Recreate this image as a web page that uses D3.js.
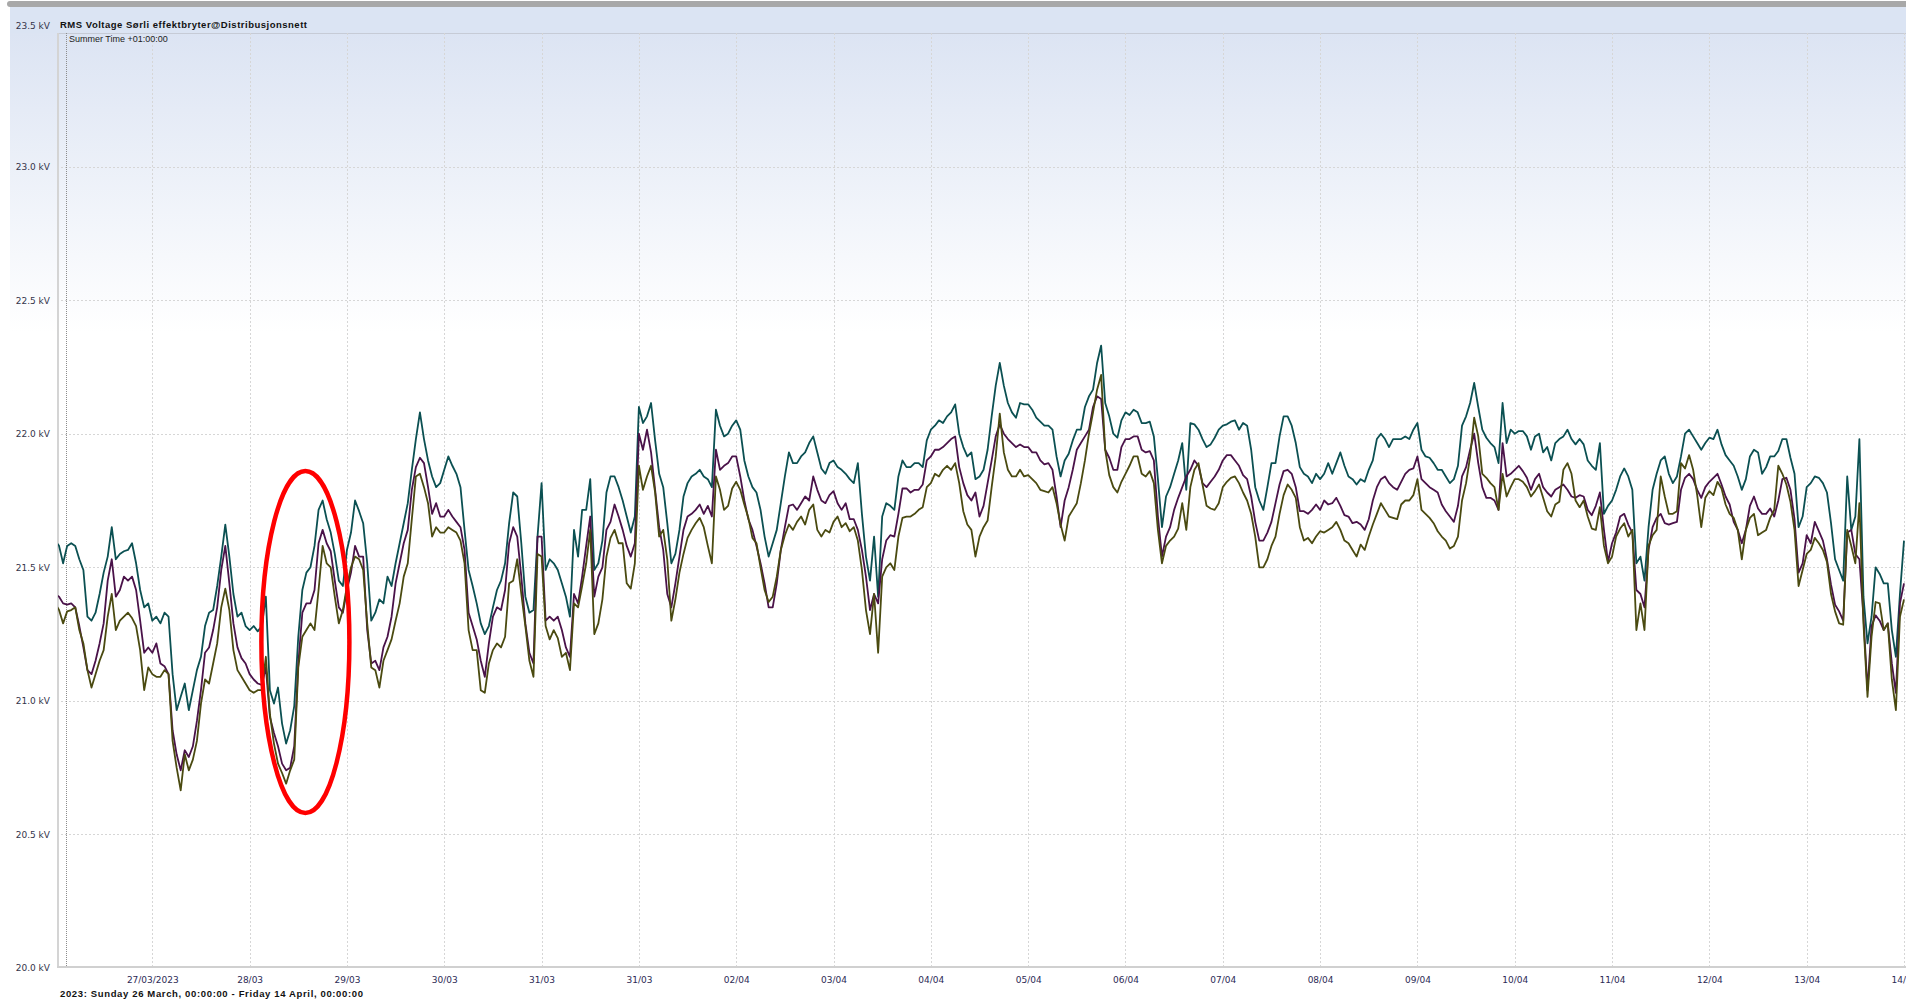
<!DOCTYPE html>
<html lang="en">
<head>
<meta charset="UTF-8">
<title>RMS Voltage Sørli effektbryter@Distribusjonsnett</title>
<script src="https://d3js.org/d3.v7.min.js"></script>
<style>
  html, body { margin: 0; padding: 0; background: #fff; overflow: hidden; }
  svg { display: block; font-family: "DejaVu Sans", Verdana, sans-serif; }
</style>
</head>
<body>
<div id="chart"></div>
<script>
// hourly samples from Sunday 26 March 2023 00:00 to Friday 14 April 00:00
const startTime = Date.UTC(2023, 2, 26, 0, 0);
const stepHours = 1;
const summerTimeAt = Date.UTC(2023, 2, 26, 2, 40);

const dayLabels = ["27/03/2023", "28/03", "29/03", "30/03", "31/03", "31/03", "02/04", "03/04", "04/04",
  "05/04", "06/04", "07/04", "08/04", "09/04", "10/04", "11/04", "12/04", "13/04", "14/04"];
const kvTicks = [20.0, 20.5, 21.0, 21.5, 22.0, 22.5, 23.0, 23.5];

// red marking round the dip on 28/03 (centre time and kV)
const markTime = Date.UTC(2023, 2, 28, 13, 45);
const markKv = 21.22;

// kV, one value per hour
const voltageL1 = [
  21.60,21.58,21.515,21.58,21.59,21.58,21.53,21.49,21.315,21.30,21.33,21.40,21.48,21.54,21.65,21.53,21.55,21.56,21.565,21.59,21.515,21.415,21.35,21.365,
  21.30,21.315,21.29,21.33,21.315,21.10,20.965,21.015,21.065,20.965,21.04,21.115,21.165,21.28,21.33,21.34,21.43,21.54,21.66,21.54,21.40,21.315,21.33,21.28,
  21.265,21.28,21.26,21.28,21.39,21.04,20.99,21.05,20.915,20.84,20.89,20.98,21.24,21.415,21.48,21.50,21.58,21.715,21.75,21.68,21.63,21.55,21.45,21.43,
  21.565,21.63,21.75,21.71,21.665,21.515,21.30,21.33,21.38,21.365,21.465,21.43,21.515,21.59,21.665,21.74,21.865,21.98,22.08,21.98,21.90,21.84,21.80,21.815,
  21.865,21.915,21.88,21.85,21.80,21.64,21.49,21.43,21.365,21.29,21.25,21.28,21.35,21.415,21.45,21.515,21.665,21.78,21.765,21.59,21.39,21.33,21.34,21.615,
  21.815,21.49,21.53,21.515,21.49,21.44,21.39,21.315,21.64,21.54,21.715,21.715,21.83,21.49,21.515,21.60,21.78,21.84,21.84,21.80,21.75,21.69,21.63,21.69,
  22.10,22.04,22.065,22.115,21.975,21.85,21.80,21.665,21.515,21.55,21.64,21.765,21.815,21.84,21.85,21.865,21.84,21.83,21.80,22.09,22.03,21.99,22.00,22.03,
  22.05,22.015,21.90,21.84,21.80,21.78,21.715,21.615,21.54,21.59,21.64,21.74,21.84,21.93,21.89,21.89,21.915,21.93,21.965,21.99,21.93,21.87,21.85,21.89,
  21.90,21.875,21.865,21.85,21.83,21.815,21.89,21.70,21.54,21.45,21.615,21.39,21.69,21.74,21.73,21.715,21.84,21.90,21.875,21.875,21.89,21.89,21.875,21.975,
  22.015,22.03,22.05,22.04,22.065,22.08,22.11,22.00,21.95,21.915,21.93,21.83,21.84,21.865,21.94,22.065,22.18,22.265,22.18,22.115,22.08,22.06,22.115,22.11,
  22.11,22.09,22.06,22.045,22.03,22.03,22.015,21.915,21.84,21.90,21.925,21.975,22.015,22.015,22.10,22.14,22.165,22.265,22.33,22.115,22.065,22.00,21.985,22.05,
  22.08,22.07,22.09,22.08,22.04,22.04,22.045,21.99,21.83,21.65,21.765,21.80,21.85,21.90,21.965,21.79,22.04,22.035,22.015,21.98,21.95,21.96,21.985,22.015,
  22.03,22.035,22.045,22.05,22.015,22.04,22.03,21.94,21.80,21.75,21.715,21.80,21.89,21.89,21.99,22.065,22.065,22.03,21.965,21.875,21.85,21.84,21.815,21.85,
  21.83,21.85,21.89,21.85,21.89,21.93,21.88,21.84,21.83,21.81,21.83,21.82,21.865,21.90,21.98,22.00,21.98,21.95,21.98,21.98,21.98,21.99,21.98,22.015,
  22.04,21.94,21.915,21.91,21.89,21.865,21.865,21.84,21.815,21.83,21.88,22.03,22.065,22.115,22.19,22.10,22.015,21.985,21.965,21.95,21.89,22.115,21.965,22.015,
  22.00,22.01,22.01,21.99,21.94,21.99,22.00,21.93,21.95,21.90,21.965,21.98,21.99,22.015,21.98,21.96,21.98,21.96,21.90,21.88,21.865,21.965,21.70,21.73,
  21.75,21.79,21.84,21.87,21.84,21.79,21.515,21.54,21.45,21.65,21.79,21.85,21.90,21.915,21.85,21.815,21.84,21.915,22.00,22.015,21.99,21.965,21.94,21.965,
  21.985,21.98,22.015,21.96,21.92,21.90,21.88,21.84,21.79,21.83,21.915,21.94,21.93,21.85,21.875,21.915,21.915,21.935,21.98,21.98,21.91,21.85,21.65,21.69,
  21.80,21.815,21.84,21.835,21.815,21.78,21.665,21.53,21.49,21.45,21.84,21.64,21.69,21.98,21.39,21.215,21.315,21.50,21.475,21.44,21.44,21.265,21.165,21.40,
  21.60
];

const voltageL2 = [
  21.40,21.39,21.365,21.36,21.365,21.35,21.28,21.20,21.115,21.10,21.15,21.215,21.29,21.45,21.53,21.39,21.415,21.465,21.45,21.465,21.415,21.30,21.18,21.20,
  21.18,21.215,21.14,21.13,21.10,20.89,20.80,20.74,20.815,20.79,20.83,20.925,21.04,21.18,21.20,21.265,21.35,21.49,21.58,21.44,21.29,21.20,21.16,21.14,
  21.10,21.08,21.065,21.06,21.125,20.94,20.88,20.83,20.765,20.74,20.75,20.83,21.14,21.33,21.365,21.365,21.415,21.59,21.64,21.59,21.56,21.45,21.35,21.33,
  21.415,21.48,21.58,21.54,21.54,21.265,21.14,21.15,21.115,21.20,21.24,21.315,21.44,21.515,21.59,21.64,21.79,21.875,21.91,21.89,21.80,21.70,21.74,21.69,
  21.69,21.715,21.69,21.67,21.65,21.565,21.33,21.28,21.23,21.15,21.09,21.215,21.315,21.35,21.34,21.415,21.59,21.65,21.615,21.465,21.29,21.18,21.14,21.615,
  21.615,21.30,21.315,21.30,21.315,21.265,21.20,21.165,21.40,21.365,21.465,21.58,21.69,21.39,21.465,21.50,21.64,21.67,21.735,21.69,21.64,21.58,21.54,21.59,
  22.00,21.94,22.015,21.93,21.79,21.65,21.565,21.40,21.35,21.44,21.54,21.64,21.69,21.70,21.715,21.735,21.70,21.73,21.69,21.94,21.865,21.88,21.89,21.915,
  21.915,21.84,21.75,21.68,21.64,21.58,21.515,21.44,21.35,21.35,21.44,21.565,21.65,21.73,21.735,21.715,21.74,21.765,21.75,21.84,21.79,21.75,21.74,21.77,
  21.785,21.74,21.715,21.74,21.68,21.68,21.64,21.565,21.465,21.34,21.40,21.365,21.53,21.60,21.62,21.615,21.70,21.795,21.795,21.78,21.79,21.79,21.81,21.90,
  21.915,21.94,21.94,21.95,21.965,21.98,21.99,21.875,21.815,21.77,21.75,21.78,21.69,21.73,21.815,21.90,21.99,22.035,22.00,21.98,21.965,21.95,21.96,21.95,
  21.95,21.93,21.93,21.90,21.885,21.89,21.865,21.765,21.65,21.75,21.80,21.865,21.94,21.965,21.99,22.015,22.10,22.14,22.13,21.94,21.91,21.865,21.865,21.95,
  21.98,21.98,21.99,21.99,21.94,21.93,21.935,21.90,21.69,21.54,21.615,21.65,21.715,21.76,21.80,21.84,21.865,21.90,21.88,21.815,21.80,21.82,21.84,21.865,
  21.90,21.92,21.92,21.90,21.88,21.845,21.83,21.765,21.67,21.60,21.60,21.63,21.67,21.74,21.81,21.86,21.865,21.85,21.80,21.71,21.71,21.70,21.715,21.735,
  21.715,21.75,21.735,21.74,21.76,21.73,21.695,21.69,21.665,21.67,21.66,21.64,21.68,21.75,21.80,21.83,21.84,21.815,21.80,21.79,21.82,21.85,21.865,21.87,
  21.915,21.83,21.815,21.80,21.79,21.78,21.735,21.71,21.69,21.67,21.73,21.84,21.875,21.94,22.00,21.89,21.80,21.76,21.76,21.75,21.715,21.965,21.84,21.85,
  21.865,21.88,21.86,21.835,21.79,21.83,21.85,21.80,21.78,21.765,21.79,21.80,21.81,21.79,21.765,21.76,21.77,21.765,21.715,21.695,21.73,21.78,21.64,21.52,
  21.59,21.63,21.69,21.70,21.66,21.63,21.415,21.40,21.35,21.565,21.65,21.685,21.70,21.665,21.66,21.665,21.67,21.79,21.835,21.85,21.83,21.79,21.76,21.80,
  21.82,21.835,21.85,21.81,21.765,21.735,21.67,21.64,21.59,21.64,21.73,21.765,21.72,21.70,21.70,21.72,21.69,21.75,21.83,21.835,21.79,21.68,21.48,21.515,
  21.62,21.59,21.67,21.635,21.60,21.53,21.435,21.36,21.335,21.30,21.63,21.64,21.55,21.53,21.315,21.04,21.28,21.32,21.30,21.265,21.29,21.14,21.03,21.365,
  21.44
];

const voltageL3 = [
  21.365,21.34,21.29,21.335,21.34,21.35,21.265,21.215,21.115,21.05,21.10,21.15,21.19,21.315,21.40,21.265,21.30,21.315,21.33,21.31,21.28,21.19,21.04,21.125,
  21.10,21.09,21.09,21.115,21.10,20.85,20.75,20.665,20.80,20.74,20.78,20.85,20.99,21.08,21.065,21.14,21.215,21.35,21.42,21.34,21.19,21.115,21.09,21.065,
  21.04,21.03,21.04,21.04,21.165,20.95,20.84,20.765,20.73,20.69,20.74,20.78,21.125,21.24,21.265,21.29,21.265,21.415,21.58,21.515,21.50,21.39,21.29,21.34,
  21.43,21.50,21.54,21.53,21.49,21.29,21.125,21.115,21.05,21.15,21.19,21.23,21.30,21.365,21.465,21.515,21.68,21.84,21.85,21.80,21.74,21.615,21.65,21.63,
  21.63,21.65,21.64,21.63,21.60,21.515,21.265,21.19,21.19,21.04,21.03,21.14,21.19,21.215,21.20,21.24,21.44,21.45,21.53,21.40,21.28,21.15,21.09,21.55,
  21.54,21.28,21.23,21.265,21.235,21.165,21.18,21.115,21.365,21.35,21.43,21.515,21.64,21.25,21.29,21.38,21.54,21.61,21.64,21.59,21.59,21.44,21.42,21.515,
  21.88,21.79,21.84,21.88,21.78,21.615,21.64,21.53,21.30,21.38,21.48,21.55,21.61,21.64,21.665,21.685,21.65,21.58,21.515,21.84,21.79,21.715,21.73,21.795,
  21.82,21.79,21.735,21.685,21.61,21.59,21.50,21.415,21.37,21.39,21.465,21.565,21.62,21.66,21.64,21.67,21.69,21.66,21.715,21.735,21.64,21.615,21.64,21.63,
  21.67,21.69,21.65,21.665,21.635,21.65,21.60,21.49,21.34,21.25,21.40,21.18,21.465,21.50,21.515,21.49,21.615,21.685,21.69,21.69,21.70,21.715,21.725,21.80,
  21.815,21.85,21.84,21.865,21.88,21.865,21.89,21.815,21.71,21.66,21.64,21.54,21.615,21.65,21.675,21.80,21.915,22.075,21.93,21.865,21.84,21.84,21.865,21.84,
  21.845,21.83,21.815,21.79,21.785,21.78,21.80,21.74,21.66,21.60,21.69,21.715,21.74,21.815,21.90,22.00,22.08,22.165,22.22,21.94,21.845,21.80,21.78,21.82,
  21.85,21.88,21.915,21.915,21.85,21.84,21.86,21.815,21.64,21.515,21.58,21.60,21.615,21.645,21.74,21.64,21.80,21.865,21.89,21.81,21.73,21.72,21.715,21.74,
  21.80,21.82,21.835,21.84,21.815,21.78,21.75,21.70,21.615,21.50,21.50,21.53,21.58,21.615,21.70,21.77,21.81,21.79,21.76,21.65,21.60,21.61,21.59,21.615,
  21.635,21.63,21.64,21.65,21.67,21.64,21.60,21.59,21.565,21.54,21.585,21.565,21.615,21.66,21.70,21.74,21.715,21.69,21.685,21.68,21.735,21.75,21.75,21.77,
  21.83,21.715,21.70,21.685,21.665,21.635,21.615,21.60,21.57,21.58,21.615,21.75,21.815,21.915,22.06,21.99,21.85,21.835,21.815,21.80,21.715,21.85,21.765,21.80,
  21.83,21.83,21.82,21.80,21.765,21.785,21.81,21.76,21.71,21.69,21.735,21.745,21.865,21.89,21.85,21.75,21.725,21.75,21.69,21.645,21.64,21.725,21.58,21.515,
  21.54,21.615,21.645,21.665,21.615,21.64,21.265,21.365,21.265,21.58,21.62,21.64,21.84,21.765,21.70,21.70,21.71,21.89,21.87,21.92,21.865,21.77,21.65,21.76,
  21.785,21.77,21.82,21.795,21.735,21.70,21.685,21.64,21.53,21.64,21.685,21.70,21.62,21.63,21.64,21.685,21.715,21.88,21.85,21.81,21.745,21.64,21.43,21.49,
  21.55,21.565,21.61,21.59,21.565,21.52,21.40,21.335,21.29,21.285,21.64,21.58,21.515,21.74,21.29,21.015,21.24,21.37,21.365,21.265,21.29,21.08,20.965,21.315,
  21.38
];

const seriesColors = ["#0b5052", "#4a1249", "#4a4a10"];

const width = 1906, height = 1000;
const plot = { left: 57, right: 1906, top: 33, bottom: 968 };
const hourMs = 3600 * 1000;
const timeAt = i => new Date(startTime + i * stepHours * hourMs);
const endTime = timeAt(voltageL1.length - 1);

const svg = d3.select("#chart").append("svg")
  .attr("width", width).attr("height", height);

const defs = svg.append("defs");
const grad = defs.append("linearGradient")
  .attr("id", "bg").attr("x1", 0).attr("x2", 0).attr("y1", 0).attr("y2", 1);
grad.append("stop").attr("offset", "0%").attr("stop-color", "#dce4f3");
grad.append("stop").attr("offset", "100%").attr("stop-color", "#ffffff");
defs.append("clipPath").attr("id", "clip").append("rect")
  .attr("x", plot.left + 1).attr("y", plot.top)
  .attr("width", plot.right - plot.left).attr("height", plot.bottom - plot.top);

// header band and background fade
svg.append("rect").attr("x", 10).attr("y", 7).attr("width", width - 10).attr("height", 26).attr("fill", "#dbe4f3");
svg.append("rect").attr("x", 10).attr("y", 33).attr("width", width - 10).attr("height", 300).attr("fill", "url(#bg)");
svg.append("rect").attr("x", 7).attr("y", 1).attr("width", width).attr("height", 6).attr("rx", 3).attr("fill", "#a8a8a8");
svg.append("line").attr("x1", plot.left).attr("x2", width).attr("y1", plot.top + 0.5).attr("y2", plot.top + 0.5)
  .attr("stroke", "#c6cbd6");

const x = d3.scaleUtc().domain([new Date(startTime), endTime]).range([55, 1904]);
const y = d3.scaleLinear().domain([20, 23.5]).range([plot.bottom, plot.top]);

const dayTimes = dayLabels.map((d, i) => new Date(startTime + (i + 1) * 24 * hourMs));

// grid
svg.append("g").selectAll("line").data(dayTimes).join("line")
  .attr("x1", d => Math.round(x(d)) + 0.5).attr("x2", d => Math.round(x(d)) + 0.5)
  .attr("y1", plot.top).attr("y2", plot.bottom)
  .attr("stroke", "#d6d6d6").attr("stroke-dasharray", "2,2");
svg.append("g").selectAll("line").data(kvTicks.slice(1, -1)).join("line")
  .attr("x1", plot.left).attr("x2", width)
  .attr("y1", d => Math.round(y(d)) + 0.5).attr("y2", d => Math.round(y(d)) + 0.5)
  .attr("stroke", "#d6d6d6").attr("stroke-dasharray", "2,2");

// axis lines
svg.append("line").attr("x1", plot.left + 1).attr("x2", plot.left + 1).attr("y1", plot.top).attr("y2", plot.bottom)
  .attr("stroke", "#d4d4d4").attr("stroke-width", 2);
svg.append("line").attr("x1", plot.left).attr("x2", width).attr("y1", plot.bottom - 1).attr("y2", plot.bottom - 1)
  .attr("stroke", "#d0d0d0").attr("stroke-width", 2);

// summer time marker
svg.append("line").attr("x1", Math.round(x(summerTimeAt)) + 0.5).attr("x2", Math.round(x(summerTimeAt)) + 0.5)
  .attr("y1", plot.top).attr("y2", plot.bottom - 2)
  .attr("stroke", "#8c8c8c").attr("stroke-dasharray", "1,1");
svg.append("text").attr("x", Math.round(x(summerTimeAt)) + 3).attr("y", 42)
  .attr("font-family", "'Liberation Sans', Arial, sans-serif").attr("font-size", 9).attr("fill", "#222")
  .text("Summer Time +01:00:00");

// series
const line = d3.line().x((d, i) => x(timeAt(i))).y(d => y(d));
svg.append("g").attr("clip-path", "url(#clip)")
  .selectAll("path").data([voltageL1, voltageL2, voltageL3]).join("path")
  .attr("d", line)
  .attr("fill", "none")
  .attr("stroke", (d, i) => seriesColors[i])
  .attr("stroke-width", 1.8)
  .attr("stroke-linejoin", "round");

// hand-drawn style marking
svg.append("ellipse")
  .attr("cx", x(markTime)).attr("cy", y(markKv))
  .attr("rx", 44).attr("ry", 171)
  .attr("fill", "none").attr("stroke", "#ff0000").attr("stroke-width", 4.5);

// axes
const xAxis = svg.append("g").attr("transform", `translate(0,${plot.bottom})`)
  .call(d3.axisBottom(x).tickValues(dayTimes).tickFormat((d, i) => dayLabels[i]).tickSize(0).tickPadding(9));
xAxis.select(".domain").remove();
xAxis.selectAll("text").attr("font-family", "'DejaVu Sans', Verdana, sans-serif").attr("font-size", 9).attr("fill", "#2c2a55");

const yAxis = svg.append("g").attr("transform", `translate(${plot.left},0)`)
  .call(d3.axisLeft(y).tickValues(kvTicks).tickFormat(d => d.toFixed(1) + " kV").tickSize(0).tickPadding(7));
yAxis.select(".domain").remove();
yAxis.selectAll("text").attr("font-family", "'DejaVu Sans', Verdana, sans-serif").attr("font-size", 9).attr("fill", "#34344a");
yAxis.selectAll(".tick").filter(d => d === 23.5).select("text").attr("transform", "translate(0,-7)");

// titles
svg.append("text").attr("x", 60).attr("y", 28)
  .attr("font-family", "'Liberation Sans', Arial, sans-serif").attr("font-weight", "bold").attr("font-size", 9.5)
  .attr("fill", "#111").attr("textLength", 247)
  .text("RMS Voltage Sørli effektbryter@Distribusjonsnett");
svg.append("text").attr("x", 60).attr("y", 997)
  .attr("font-family", "'Liberation Sans', Arial, sans-serif").attr("font-weight", "bold").attr("font-size", 9.5)
  .attr("fill", "#111").attr("textLength", 303)
  .text("2023: Sunday 26 March, 00:00:00 - Friday 14 April, 00:00:00");
</script>
</body>
</html>
